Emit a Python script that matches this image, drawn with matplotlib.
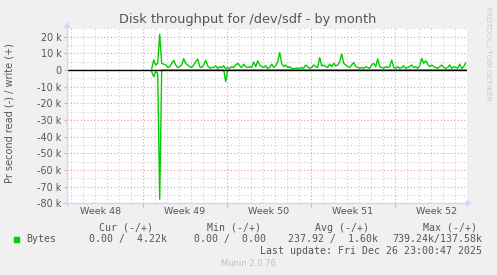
import matplotlib
matplotlib.use("Agg")
import numpy as np
import matplotlib.pyplot as plt

# samples every 4 hours, time in days since Mon 24 Nov (week 48)
t_start = 7.75
t_step = 1 / 6

# write bytes/s (k)
write_k = [
    0.5, 6, 3, 4, 21.5, 4, 3.5, 3, 1.5, 2, 4, 5.8, 3, 1.5, 2, 3, 6.8, 4, 3, 2,
    1.5, 3, 5, 6.6, 2, 1.5, 3, 5.8, 2.5, 1.2, 1.5, 1.5, 2.5, 1, 2, 1.5, 2.5, 0.5, 1.5, 1,
    2, 1.5, 3, 4, 2.5, 1.5, 3.5, 2, 1.5, 2, 1.5, 4.8, 2, 5.4, 3, 2, 1.5, 2.5, 1, 1.5,
    3.5, 1.5, 2.5, 5, 10.5, 4, 2, 3, 1.5, 2, 1, 0.8, 1, 1.2, 0.8, 1.5, 1, 3, 2, 1,
    1.5, 3, 2, 1.5, 7.4, 2.5, 3, 2, 1.5, 3.5, 2, 4, 2.5, 3, 5, 9.6, 4, 3, 2, 1.5,
    3, 4.5, 2, 1.5, 1, 1.5, 1, 2, 1.5, 1, 3, 4, 2, 6.6, 2, 1.5, 1, 2, 1.5, 2,
    6, 1.5, 1, 2, 1, 1.5, 2.5, 1, 1.5, 2, 3, 1.5, 2, 1, 2.5, 7, 4, 5.5, 3.5, 2,
    3, 2, 1.5, 1, 2, 3, 1.5, 1, 1.5, 3, 1, 2, 1.5, 1, 3.5, 1, 2, 4.2,
]
# read bytes/s (k), drawn negative
read_k = [0.0] * len(write_k)
read_k[0] = 1
read_k[1] = 4
read_k[2] = 1
read_k[3] = 2
read_k[4] = 77.6
read_k[37] = 7

week_lines = [7, 14, 21, 28]
week_mid = [3.5, 10.5, 17.5, 24.5, 31.5]
week_labels = ["Week 48", "Week 49", "Week 50", "Week 51", "Week 52"]
x_left, x_right = 0.692, 34.025
y_bottom, y_top = -80000, 25500

t = t_start + t_step * np.arange(len(write_k))
write = np.array(write_k) * 1000
read = -np.array(read_k) * 1000

W, H = 497, 275
fig = plt.figure(figsize=(W / 100, H / 100), dpi=100)
fig.patch.set_facecolor("#F0F0F0")


def fx(x):
    return x / W


def fy(y):
    return 1 - y / H


ax = fig.add_axes([fx(67), fy(203.3), (467 - 67) / W, (203.3 - 27.5) / H])
ax.set_facecolor("white")
ax.set_xlim(x_left, x_right)
ax.set_ylim(y_bottom, y_top)
for s in ax.spines.values():
    s.set_visible(False)

dots = (0, (1, 2))
for d in np.arange(1, 35):
    if d in week_lines:
        continue
    ax.axvline(d, color="#CFCFCF", lw=0.8, ls=dots, zorder=1)
for v in range(-75000, 25001, 10000):
    ax.axhline(v, color="#CFCFCF", lw=0.8, ls=dots, zorder=1)
for v in range(-70000, 20001, 10000):
    ax.axhline(v, color="#F09A9A", lw=0.8, ls=dots, zorder=1)
for d in week_lines:
    ax.axvline(d, color="#F09A9A", lw=0.8, ls=dots, zorder=1)

ax.plot(t, read, color="#00CC00", lw=1.0, zorder=2)
ax.axhline(0, color="black", lw=1.0, zorder=3)
ax.plot(t, write, color="#00CC00", lw=1.0, zorder=4)

yt = list(range(-80000, 20001, 10000))
ax.set_yticks(yt)
ax.set_yticklabels(["0" if v == 0 else f"{v // 1000} k" for v in yt])
ax.tick_params(axis="y", length=2, color="#F2A0A0", labelsize=6.9,
               labelcolor="#555555", pad=2)
ax.set_xticks(week_lines)
ax.set_xticklabels([])
ax.tick_params(axis="x", which="major", length=3, color="#F2A0A0")
ax.set_xticks(week_mid, minor=True)
ax.set_xticklabels(week_labels, minor=True)
ax.tick_params(axis="x", which="minor", length=0, labelsize=6.8,
               labelcolor="#555555", pad=3)

# axes with arrows
axis_col = "#D4D4F8"
fig.add_artist(plt.Line2D([fx(67), fx(67)], [fy(205), fy(27)], color=axis_col, lw=1))
fig.add_artist(plt.Line2D([fx(63), fx(467)], [fy(203.3), fy(203.3)], color=axis_col, lw=1))
fig.patches.append(plt.Polygon([[fx(64.5), fy(27.5)], [fx(69.5), fy(27.5)], [fx(67), fy(23)]],
                               closed=True, color=axis_col, transform=fig.transFigure))
fig.patches.append(plt.Polygon([[fx(466.5), fy(200.8)], [fx(466.5), fy(205.8)], [fx(471), fy(203.3)]],
                               closed=True, color=axis_col, transform=fig.transFigure))

fig.text(fx(248), fy(19), "Disk throughput for /dev/sdf - by month", ha="center",
         va="center", fontsize=9.3, color="#555555")
fig.text(fx(10), fy(113), "Pr second read (-) / write (+)", rotation=90, ha="center",
         va="center", fontsize=7, color="#555555")
fig.text(fx(488), fy(53), "RRDTOOL / TOBI OETIKER", rotation=270, ha="center",
         va="center", fontsize=5.3, color="#C8C8C8")

mono = dict(family="DejaVu Sans Mono", fontsize=7.1, color="#555555", va="center")
fig.text(fx(98.7), fy(227.7), "Cur (-/+)", **mono)
fig.text(fx(206.7), fy(227.7), "Min (-/+)", **mono)
fig.text(fx(315), fy(227.7), "Avg (-/+)", **mono)
fig.text(fx(422.7), fy(227.7), "Max (-/+)", **mono)
fig.patches.append(plt.Rectangle((fx(14), fy(242.3)), 5.3 / W, 5.6 / H, color="#00CC00",
                                 transform=fig.transFigure))
fig.text(fx(26.3), fy(239.3), "Bytes", **mono)
fig.text(fx(89), fy(239.3), "0.00 /  4.22k", **mono)
fig.text(fx(194.3), fy(239.3), "0.00 /  0.00", **mono)
fig.text(fx(287.7), fy(239.3), "237.92 /  1.60k", **mono)
fig.text(fx(392.7), fy(239.3), "739.24k/137.58k", **mono)
fig.text(fx(482.3), fy(251), "Last update: Fri Dec 26 23:00:47 2025", ha="right", **mono)
fig.text(fx(248), fy(264), "Munin 2.0.76", ha="center", va="center", fontsize=6,
         color="#C0C0C0")

fig.savefig("out.png", dpi=100, facecolor=fig.get_facecolor())
